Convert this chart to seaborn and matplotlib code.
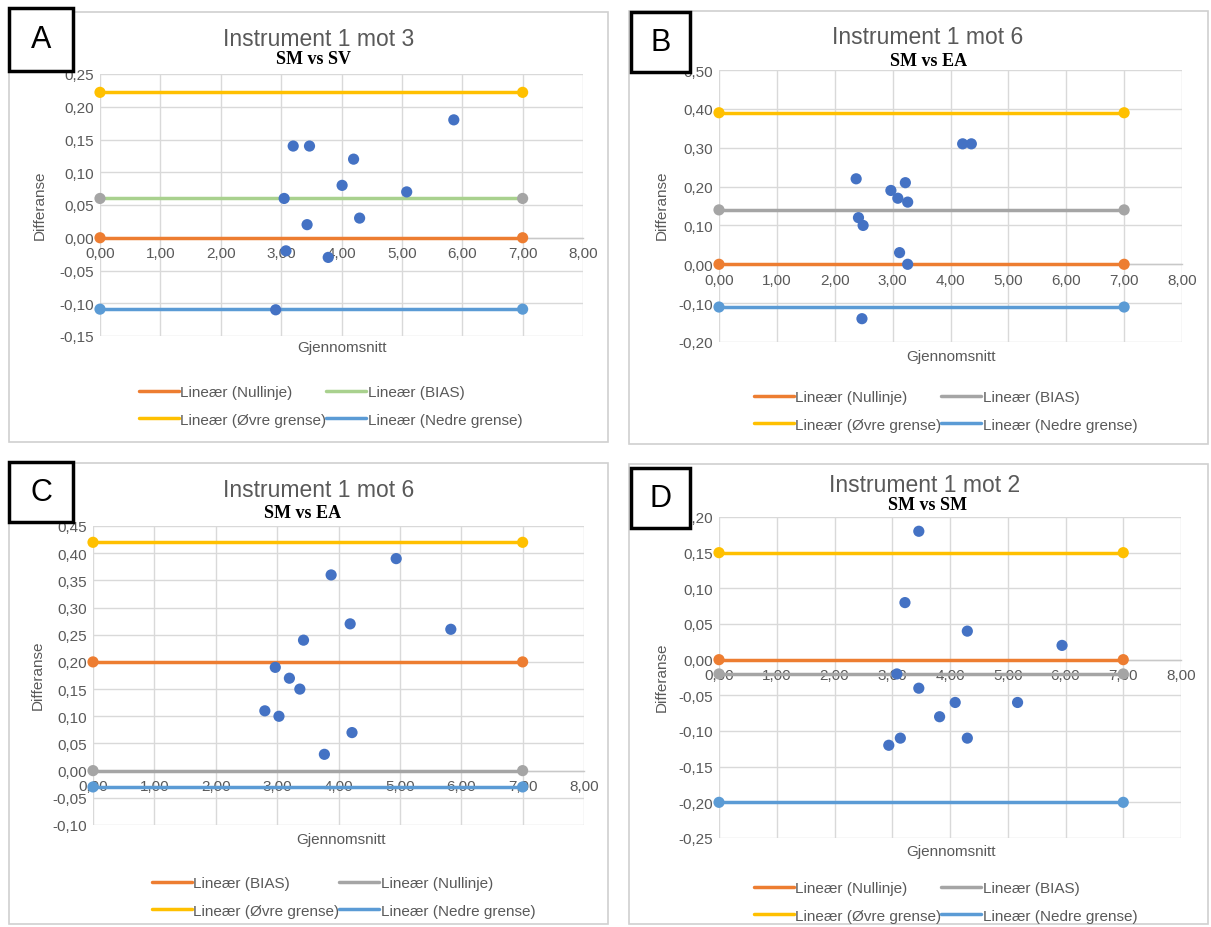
import matplotlib
matplotlib.use("Agg")
import seaborn as sns
import matplotlib.pyplot as plt
from matplotlib.lines import Line2D
from matplotlib.patches import Rectangle
from matplotlib.ticker import FuncFormatter, MultipleLocator

# Data
line_x = [0, 7]

a_x = [5.86, 3.20, 3.47, 4.20, 4.01, 5.08, 3.05, 4.30, 3.43, 3.08, 3.78, 2.91]
a_y = [0.18, 0.14, 0.14, 0.12, 0.08, 0.07, 0.06, 0.03, 0.02, -0.02, -0.03, -0.11]
a_levels = {"Nullinje": 0.0, "BIAS": 0.06, "Øvre grense": 0.222, "Nedre grense": -0.109}

b_x = [4.21, 4.36, 2.37, 3.22, 2.97, 3.09, 3.26, 2.41, 2.49, 3.12, 3.26, 2.47]
b_y = [0.31, 0.31, 0.22, 0.21, 0.19, 0.17, 0.16, 0.12, 0.10, 0.03, 0.00, -0.14]
b_levels = {"Nullinje": 0.0, "BIAS": 0.14, "Øvre grense": 0.39, "Nedre grense": -0.11}

c_x = [4.94, 3.88, 4.19, 5.83, 3.43, 2.97, 3.20, 3.37, 2.80, 3.03, 4.22, 3.77]
c_y = [0.39, 0.36, 0.27, 0.26, 0.24, 0.19, 0.17, 0.15, 0.11, 0.10, 0.07, 0.03]
c_levels = {"BIAS": 0.20, "Nullinje": 0.0, "Øvre grense": 0.42, "Nedre grense": -0.03}

d_x = [3.46, 3.22, 4.30, 5.94, 3.08, 3.46, 4.09, 5.17, 3.82, 3.14, 4.30, 2.94]
d_y = [0.18, 0.08, 0.04, 0.02, -0.02, -0.04, -0.06, -0.06, -0.08, -0.11, -0.11, -0.12]
d_levels = {"Nullinje": 0.0, "BIAS": -0.02, "Øvre grense": 0.15, "Nedre grense": -0.20}

titles = ["Instrument 1 mot 3", "Instrument 1 mot 6", "Instrument 1 mot 6", "Instrument 1 mot 2"]
subtitles = ["SM vs SV", "SM vs EA", "SM vs EA", "SM vs SM"]
letters = ["A", "B", "C", "D"]

BLUE = "#4472C4"
ORANGE = "#ED7D31"
GREY = "#A5A5A5"
YELLOW = "#FFC000"
LBLUE = "#5B9BD5"
GREEN = "#A9D18E"
TXT = "#595959"

W, H = 1211, 928

sns.set_theme(style="white")
plt.rcParams['font.family'] = ['Liberation Sans', 'DejaVu Sans']

fig = plt.figure(figsize=(W / 100, H / 100), dpi=100)


def fx(px):
    return px / W


def fy(py):
    return 1 - py / H


def comma(v, pos):
    s = f"{v:.2f}".replace(".", ",")
    return "0,00" if s == "-0,00" else s


# panel layout in pixels: axes box, panel frame, letter box, text anchors
panels = [
    dict(x=a_x, y=a_y, levels=a_levels,
         colors={"Nullinje": (ORANGE, ORANGE), "BIAS": (GREEN, GREY),
                 "Øvre grense": (YELLOW, YELLOW), "Nedre grense": (LBLUE, LBLUE)},
         ylim=(-0.15, 0.25), ystep=0.05, ax=(100, 75, 583, 337),
         frame=(9, 13, 608, 443), box=(9, 9, 73, 72),
         title=(319, 39), sub=(313, 59), ylab=(40, 205), xlab=(342, 348), leg=(139, 392)),
    dict(x=b_x, y=b_y, levels=b_levels,
         colors={"Nullinje": (ORANGE, ORANGE), "BIAS": (GREY, GREY),
                 "Øvre grense": (YELLOW, YELLOW), "Nedre grense": (LBLUE, LBLUE)},
         ylim=(-0.20, 0.50), ystep=0.10, ax=(719, 71, 1182, 343),
         frame=(629, 12, 1208, 445), box=(631, 13, 690, 73),
         title=(928, 38), sub=(929, 61), ylab=(662, 205), xlab=(951, 357), leg=(754, 397)),
    dict(x=c_x, y=c_y, levels=c_levels,
         colors={"BIAS": (ORANGE, ORANGE), "Nullinje": (GREY, GREY),
                 "Øvre grense": (YELLOW, YELLOW), "Nedre grense": (LBLUE, LBLUE)},
         ylim=(-0.10, 0.45), ystep=0.05, ax=(93, 527, 584, 826),
         frame=(9, 464, 608, 925), box=(9, 463, 73, 523),
         title=(319, 491), sub=(303, 513), ylab=(38, 675), xlab=(341, 840), leg=(152, 883)),
    dict(x=d_x, y=d_y, levels=d_levels,
         colors={"Nullinje": (ORANGE, ORANGE), "BIAS": (GREY, GREY),
                 "Øvre grense": (YELLOW, YELLOW), "Nedre grense": (LBLUE, LBLUE)},
         ylim=(-0.25, 0.20), ystep=0.05, ax=(719, 518, 1181, 839),
         frame=(629, 465, 1208, 925), box=(631, 469, 690, 529),
         title=(925, 485), sub=(927, 506), ylab=(662, 677), xlab=(951, 852), leg=(754, 888)),
]

for i, p in enumerate(panels):
    # light panel frame
    x0, y0, x1, y1 = p["frame"]
    fig.patches.append(Rectangle((fx(x0), fy(y1)), fx(x1 - x0), (y1 - y0) / H,
                                 transform=fig.transFigure, fill=False,
                                 edgecolor="#D0D0D0", lw=1.2, zorder=0))

    l, t, r, b = p["ax"]
    ax = fig.add_axes([fx(l), fy(b), fx(r - l), (b - t) / H])
    ax.set_xlim(0, 8)
    ax.set_ylim(*p["ylim"])
    ax.xaxis.set_major_locator(MultipleLocator(1))
    ax.yaxis.set_major_locator(MultipleLocator(p["ystep"]))
    ax.xaxis.set_major_formatter(FuncFormatter(comma))
    ax.yaxis.set_major_formatter(FuncFormatter(comma))
    ax.grid(True, color="#D9D9D9", lw=1)
    for s in ["top", "right", "left"]:
        ax.spines[s].set_visible(False)
    ax.spines["bottom"].set_position(("data", 0))
    ax.spines["bottom"].set_color("#C8C8C8")
    ax.spines["bottom"].set_linewidth(1)
    ax.tick_params(axis="both", length=0, labelsize=11, labelcolor=TXT)
    ax.tick_params(axis="x", pad=6)
    ax.tick_params(axis="y", pad=4)

    handles = []
    for name, v in p["levels"].items():
        lc, mc = p["colors"][name]
        sns.lineplot(x=line_x, y=[v, v], color=lc, lw=2.5, ax=ax, legend=False, zorder=3)
        sns.scatterplot(x=line_x, y=[v, v], color=mc, s=65, edgecolor="none",
                        ax=ax, legend=False, zorder=4, clip_on=False)
        handles.append(Line2D([], [], color=lc, lw=2.5, label=f"Lineær ({name})"))

    sns.scatterplot(x=p["x"], y=p["y"], color=BLUE, s=65, edgecolor="none",
                    ax=ax, legend=False, zorder=5)
    ax.set_xlabel("")
    ax.set_ylabel("")

    # titles and labels
    fig.text(fx(p["title"][0]), fy(p["title"][1]), titles[i], ha="center", va="center",
             fontsize=16.5, color=TXT)
    fig.text(fx(p["sub"][0]), fy(p["sub"][1]), subtitles[i], ha="center", va="center",
             fontsize=13, fontweight="bold", color="black",
             family=["Liberation Serif", "DejaVu Serif"])
    fig.text(fx(p["ylab"][0]), fy(p["ylab"][1]), "Differanse", ha="center", va="center",
             rotation=90, fontsize=11, color=TXT)
    fig.text(fx(p["xlab"][0]), fy(p["xlab"][1]), "Gjennomsnitt", ha="center", va="center",
             fontsize=11, color=TXT)

    # legend: two columns, filled row-wise
    order = [handles[0], handles[2], handles[1], handles[3]]
    fig.legend(handles=order, loc="upper left",
               bbox_to_anchor=(fx(p["leg"][0]), fy(p["leg"][1] - 6)),
               ncol=2, frameon=False, fontsize=11, labelcolor=TXT,
               handlelength=2.6, handletextpad=0.1, columnspacing=0.0,
               labelspacing=0.9, borderpad=0, borderaxespad=0)

    # letter box on top
    bx0, by0, bx1, by1 = p["box"]
    fig.patches.append(Rectangle((fx(bx0), fy(by1)), fx(bx1 - bx0), (by1 - by0) / H,
                                 transform=fig.transFigure, facecolor="white",
                                 edgecolor="black", lw=2.5, zorder=10))
    fig.text(fx((bx0 + bx1) / 2), fy((by0 + by1) / 2), letters[i], ha="center",
             va="center", fontsize=22, color="black", zorder=11)

fig.savefig("out.png", dpi=100)
